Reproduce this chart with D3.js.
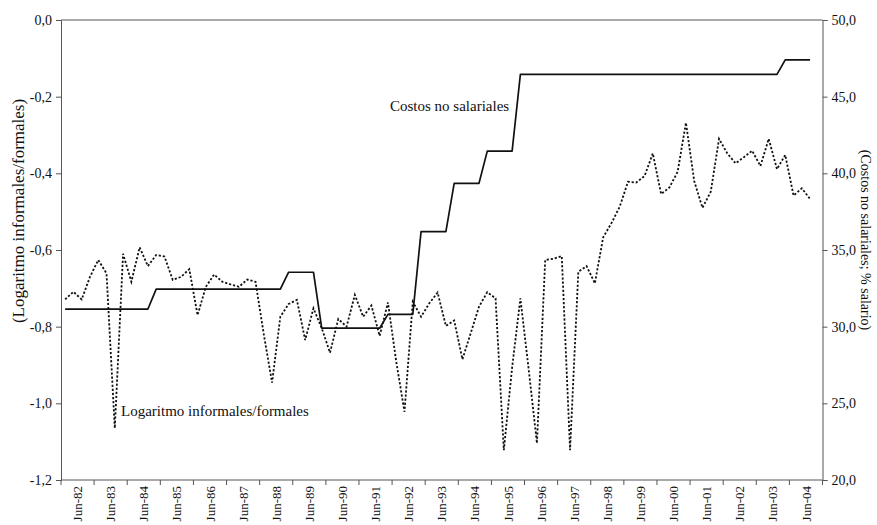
<!DOCTYPE html>
<html>
<head>
<meta charset="utf-8">
<script src="https://cdn.jsdelivr.net/npm/d3@7"></script>
<style>
  html, body { margin: 0; padding: 0; background: #fff; }
  svg { display: block; }
  text { font-family: "Liberation Serif", "Times New Roman", serif; fill: #111; }
</style>
</head>
<body>
<svg id="chart" width="877" height="525"></svg>
<script>
// Year labels on the category axis; each year holds four quarterly slots
const tickLabels = ["Jun-82","Jun-83","Jun-84","Jun-85","Jun-86","Jun-87","Jun-88","Jun-89",
  "Jun-90","Jun-91","Jun-92","Jun-93","Jun-94","Jun-95","Jun-96","Jun-97","Jun-98","Jun-99",
  "Jun-00","Jun-01","Jun-02","Jun-03","Jun-04"];
const quartersPerYear = 4;

// Log of informal / formal employment, quarterly (left axis)
const logInformalFormal = [
  -0.729,-0.709,-0.729,-0.670,-0.626,-0.661,-1.065,-0.610,-0.683,-0.593,
  -0.642,-0.613,-0.617,-0.678,-0.670,-0.650,-0.770,-0.696,-0.664,-0.683,
  -0.690,-0.696,-0.677,-0.683,-0.820,-0.946,-0.774,-0.741,-0.730,-0.835,
  -0.752,-0.804,-0.868,-0.780,-0.800,-0.717,-0.774,-0.745,-0.824,-0.737,
  -0.891,-1.022,-0.735,-0.774,-0.739,-0.711,-0.798,-0.784,-0.885,-0.817,
  -0.748,-0.710,-0.726,-1.122,-0.907,-0.726,-0.911,-1.104,-0.626,-0.623,
  -0.616,-1.122,-0.657,-0.642,-0.687,-0.567,-0.530,-0.487,-0.422,-0.424,
  -0.407,-0.348,-0.454,-0.437,-0.396,-0.268,-0.420,-0.490,-0.448,-0.310,
  -0.348,-0.374,-0.358,-0.341,-0.381,-0.310,-0.389,-0.352,-0.458,-0.439,
  -0.467
];

// Non-wage labour costs, % of salary, quarterly (right axis)
const nonWageCosts = [
  31.15,31.15,31.15,31.15,31.15,31.15,31.15,31.15,31.15,31.15,
  31.15,32.45,32.45,32.45,32.45,32.45,32.45,32.45,32.45,32.45,
  32.45,32.45,32.45,32.45,32.45,32.45,32.45,33.55,33.55,33.55,
  33.55,29.90,29.90,29.90,29.90,29.90,29.90,29.90,29.90,30.80,
  30.80,30.80,30.80,36.20,36.20,36.20,36.20,39.35,39.35,39.35,
  39.35,41.45,41.45,41.45,41.45,46.45,46.45,46.45,46.45,46.45,
  46.45,46.45,46.45,46.45,46.45,46.45,46.45,46.45,46.45,46.45,
  46.45,46.45,46.45,46.45,46.45,46.45,46.45,46.45,46.45,46.45,
  46.45,46.45,46.45,46.45,46.45,46.45,46.45,47.40,47.40,47.40,
  47.40
];

const leftTicks = [0, -0.2, -0.4, -0.6, -0.8, -1.0, -1.2];
const rightTicks = [20, 25, 30, 35, 40, 45, 50];

const svg = d3.select("#chart");
const plot = { left: 61, right: 822.5, top: 20, bottom: 480 };

const quarterIndex = d3.range(tickLabels.length * quartersPerYear);
const x = d3.scaleBand().domain(quarterIndex).range([plot.left, plot.right]).padding(0);
const yL = d3.scaleLinear().domain([-1.2, 0]).range([plot.bottom, plot.top]);
const yR = d3.scaleLinear().domain([20, 50]).range([plot.bottom, plot.top]);
const cx = i => x(i) + x.bandwidth() / 2;

const fmt1 = v => d3.format(".1f")(v).replace("−", "-").replace(".", ",");

const axisColor = "#555";

// Frame: top border line
svg.append("line")
  .attr("x1", plot.left).attr("x2", plot.right)
  .attr("y1", plot.top).attr("y2", plot.top)
  .attr("stroke", axisColor).attr("stroke-width", 1);

// Left axis
const gL = svg.append("g").attr("transform", `translate(${plot.left},0)`)
  .call(d3.axisLeft(yL).tickValues(leftTicks).tickSize(5).tickPadding(4).tickFormat(fmt1));
// Right axis
const gR = svg.append("g").attr("transform", `translate(${plot.right},0)`)
  .call(d3.axisRight(yR).tickValues(rightTicks).tickSize(5).tickPadding(4).tickFormat(fmt1));

[gL, gR].forEach(g => {
  g.select(".domain").attr("stroke", axisColor).attr("stroke-width", 1);
  g.selectAll(".tick line").attr("stroke", axisColor);
  g.selectAll(".tick text").style("font-size", "14px").attr("fill", "#111");
});

// Bottom axis: ticks between years, labels centred on each year
const boundaries = d3.range(0, quarterIndex.length + 1, quartersPerYear)
  .map(k => k < quarterIndex.length ? x(k) : plot.right);
const gB = svg.append("g");
gB.append("line")
  .attr("x1", plot.left).attr("x2", plot.right)
  .attr("y1", plot.bottom).attr("y2", plot.bottom)
  .attr("stroke", axisColor).attr("stroke-width", 1);
gB.selectAll("line.tk").data(boundaries).join("line")
  .attr("class", "tk")
  .attr("x1", d => d).attr("x2", d => d)
  .attr("y1", plot.bottom).attr("y2", plot.bottom + 5)
  .attr("stroke", axisColor);
gB.selectAll("text").data(tickLabels).join("text")
  .attr("transform", (d, k) => `translate(${x(k * quartersPerYear) + x.bandwidth() * quartersPerYear / 2},${plot.bottom + 6}) rotate(-90)`)
  .attr("text-anchor", "end")
  .attr("dy", "0.35em")
  .style("font-size", "13px")
  .text(d => d);

// Axis titles
svg.append("text")
  .attr("transform", `translate(18,211) rotate(-90)`)
  .attr("text-anchor", "middle").attr("dy", "0.35em")
  .style("font-size", "17px")
  .text("(Logaritmo informales/formales)");
svg.append("text")
  .attr("transform", `translate(866,${(plot.top + plot.bottom) / 2 - 10}) rotate(90)`)
  .attr("text-anchor", "middle").attr("dy", "0.35em")
  .style("font-size", "14px")
  .text("(Costos no salariales; % salario)");

// Series lines
const lineL = d3.line().x((d, i) => cx(i)).y(d => yL(d));
const lineR = d3.line().x((d, i) => cx(i)).y(d => yR(d));

svg.append("path").datum(nonWageCosts)
  .attr("d", lineR)
  .attr("fill", "none").attr("stroke", "#111").attr("stroke-width", 1.7)
  .attr("stroke-linejoin", "round");

svg.append("path").datum(logInformalFormal)
  .attr("d", lineL)
  .attr("fill", "none").attr("stroke", "#111").attr("stroke-width", 1.8)
  .attr("stroke-dasharray", "2.2,1.9");

// Series annotations
svg.append("text").attr("x", 390).attr("y", 111)
  .style("font-size", "15px").text("Costos no salariales");
svg.append("text").attr("x", 121).attr("y", 416)
  .style("font-size", "15px").text("Logaritmo informales/formales");
</script>
</body>
</html>
